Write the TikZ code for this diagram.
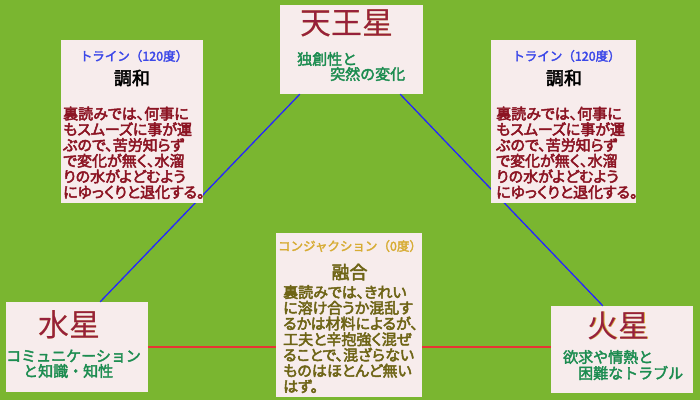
\documentclass[tikz,border=0pt]{standalone}
\usepackage{fontspec}
\setmainfont{Noto Sans CJK JP}[AutoFakeBold=2]
\newfontfamily\propjp{Noto Sans CJK JP}[RawFeature=+palt, FakeBold=3.2]
\newfontfamily\heavyjp{Noto Sans CJK JP}[FakeBold=2.5]
\usetikzlibrary{calc}

\definecolor{bggreen}{RGB}{122,182,48}
\definecolor{boxpink}{RGB}{247,236,236}
\definecolor{titlered}{RGB}{150,32,60}
\definecolor{titlegold}{RGB}{215,170,60}
\definecolor{themegreen}{RGB}{28,140,80}
\definecolor{trineblue}{RGB}{60,72,232}
\definecolor{bodyred}{RGB}{140,20,35}
\definecolor{conjgold}{RGB}{215,172,52}
\definecolor{conjolive}{RGB}{110,100,22}

% planet name with a thin gold edge
\newcommand\planetname[1]{\rlap{\kern0.9pt\color{titlegold}#1}#1}

\begin{document}
\begin{tikzpicture}[x=1pt, y=-1pt,
    box/.style={fill=boxpink, inner sep=0pt},
    planet/.style={text=titlered, font=\fontsize{31}{31}\selectfont, inner sep=0pt},
    theme/.style={text=themegreen, font=\heavyjp\fontsize{15}{15}\selectfont, inner sep=0pt, anchor=west},
    aspect/.style={font=\heavyjp\fontsize{12.5}{12.5}\selectfont, inner sep=0pt},
    keyword/.style={font=\heavyjp\fontsize{18}{18}\selectfont, inner sep=0pt},
    body/.style={font=\propjp\fontsize{15}{15.7}\selectfont, align=left, inner sep=0pt, anchor=north west},
    trineline/.style={draw=blue!85!white, line width=1.3pt},
    conjline/.style={draw={rgb,255:red,232;green,52;blue,52}, line width=1.2pt}]
  % background
  \fill[bggreen] (0,0) rectangle (700,400);

  % planet boxes
  \node[box, minimum width=143pt, minimum height=89pt] (uranus) at (351.5,49.5) {};
  \node[box, minimum width=142pt, minimum height=90pt] (mercury) at (77,347) {};
  \node[box, minimum width=142pt, minimum height=87pt] (mars) at (622,349.5) {};

  % aspect lines
  \draw[trineline] ([xshift=20pt]uranus.south west) -- ([xshift=-48pt]mercury.north east);
  \draw[trineline] ([xshift=-23pt]uranus.south east) -- ([xshift=52pt]mars.north west);
  \draw[conjline] (mercury.east) -- (mars.west |- mercury.east);

  % aspect boxes
  \node[box, minimum width=142pt, minimum height=163pt] (trineL) at (132,121.5) {};
  \node[box, minimum width=145pt, minimum height=163pt] (trineR) at (563.5,121.5) {};
  \node[box, minimum width=146pt, minimum height=164pt] (conj) at (349,315) {};

  % Uranus
  \node[planet] (uranusname) at (346.5,23) {\planetname{天王星}};
  \node[theme] (uranustheme1) at (297,59) {独創性と};
  \node[theme] (uranustheme2) at (330,74) {突然の変化};

  % Mercury
  \node[planet] (mercuryname) at (69,325) {\planetname{水星}};
  \node[theme] (mercurytheme1) at (6,356) {コミュニケーション};
  \node[theme] (mercurytheme2) at (23,371) {と知識・知性};

  % Mars
  \node[planet] (marsname) at (618.5,326) {\planetname{火星}};
  \node[theme] (marstheme1) at (563,357) {欲求や情熱と};
  \node[theme] (marstheme2) at (578,373) {困難なトラブル};

  % trine (left)
  \node[aspect, text=trineblue] (trineLhead) at (134,56) {トライン（120度）};
  \node[keyword] (trineLkey) at (132,78) {調和};
  \node[body, text=bodyred] (trineLbody) at (63,106.5) {裏読みでは、何事に\\もスムーズに事が運\\ぶので、苦労知らず\\で変化が無く、水溜\\りの水がよどむよう\\にゆっくりと退化する。};

  % trine (right)
  \node[aspect, text=trineblue] (trineRhead) at (566.5,56) {トライン（120度）};
  \node[keyword] (trineRkey) at (564,78) {調和};
  \node[body, text=bodyred] (trineRbody) at (496,106.5) {裏読みでは、何事に\\もスムーズに事が運\\ぶので、苦労知らず\\で変化が無く、水溜\\りの水がよどむよう\\にゆっくりと退化する。};

  % conjunction
  \node[aspect, text=conjgold] (conjhead) at (350,246) {コンジャクション（0度）};
  \node[keyword, text=conjolive] (conjkey) at (349.5,272) {融合};
  \node[body, text=conjolive] (conjbody) at (283,285) {裏読みでは、きれい\\に溶け合うか混乱す\\るかは材料によるが、\\工夫と辛抱強く混ぜ\\ることで、混ざらない\\ものはほとんど無い\\はず。};
\end{tikzpicture}
\end{document}
